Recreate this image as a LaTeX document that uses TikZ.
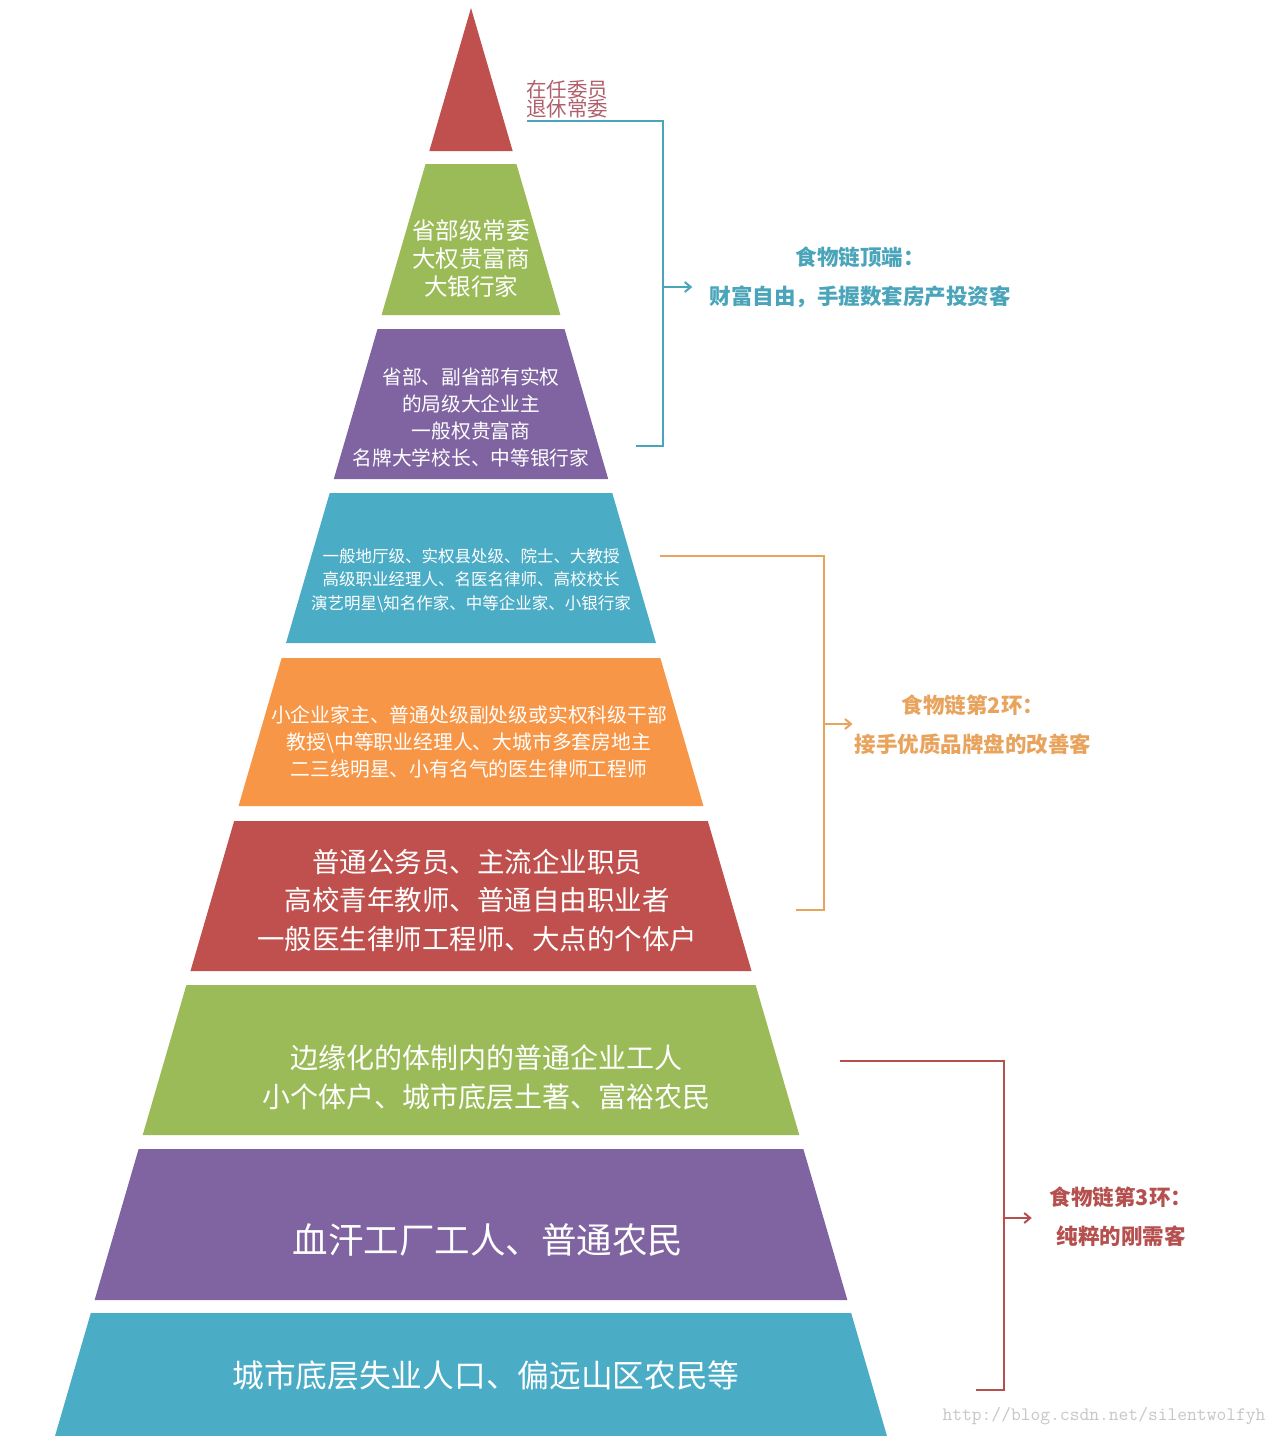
\documentclass[tikz,border=0pt]{standalone}
\usepackage{fontspec}
\setmainfont{Noto Sans CJK SC}
\usepackage{xcolor}
\definecolor{PyrRed}{HTML}{C0504D}
\definecolor{PyrGreen}{HTML}{9BBB59}
\definecolor{PyrPurple}{HTML}{8064A2}
\definecolor{PyrCyan}{HTML}{4BACC6}
\definecolor{PyrOrange}{HTML}{F79646}
\definecolor{ChainTeal}{HTML}{4AA5BA}
\definecolor{ChainOrange}{HTML}{E8A35C}
\definecolor{ChainRed}{HTML}{B5504F}
\definecolor{TopMauve}{HTML}{B0606C}
\usetikzlibrary{arrows.meta,calc}
\newcommand\tightlines{\setlength{\lineskiplimit}{-30pt}\setlength{\lineskip}{0pt}}

\begin{document}
\begin{tikzpicture}[
  x=1pt,y=-1pt,
  layertext/.style={text=white,align=center,inner sep=0pt},
  chainline/.style={line width=2pt},
  chaintext/.style={
    font=\bfseries\fontsize{21.5}{39}\selectfont,
    align=center,inner sep=0pt
  },
  chainarrow/.style={chainline,-{Straight Barb[length=6pt,width=10pt]}}
]
  \useasboundingbox (0,0) rectangle (1280,1436);
  \fill[white] (0,0) rectangle (1280,1436);

  \foreach \t/\b/\c in {8/151/PyrRed,164/315/PyrGreen,329/479/PyrPurple,
      493/643/PyrCyan,658/806/PyrOrange,821/971/PyrRed,
      985/1135/PyrGreen,1149/1300/PyrPurple,1313/1436/PyrCyan}{
    \pgfmathsetmacro\wt{0.2913*(\t-8)}
    \pgfmathsetmacro\wb{0.2913*(\b-8)}
    \fill[\c] (471-\wt,\t) -- (471+\wt,\t) -- (471+\wb,\b) -- (471-\wb,\b) -- cycle;
  }

  \node[anchor=west,align=left,inner sep=0pt,text=TopMauve,
    font=\fontsize{20.5}{19}\selectfont\tightlines] (top) at (526,99)
    {在任委员\\退休常委};

  \node[layertext,font=\fontsize{23.5}{28}\selectfont] (l2) at (471,259)
    {省部级常委\\大权贵富商\\大银行家};
  \node[layertext,font=\fontsize{19.7}{27}\selectfont] (l3) at (471,417)
    {省部、副省部有实权\\的局级大企业主\\一般权贵富商\\名牌大学校长、中等银行家};
  \node[layertext,font=\fontsize{16.5}{23.5}\selectfont] (l4) at (471,580)
    {一般地厅级、实权县处级、院士、大教授\\高级职业经理人、名医名律师、高校校长\\演艺明星\textbackslash 知名作家、中等企业家、小银行家};
  \node[layertext,font=\fontsize{19.8}{27}\selectfont] (l5) at (469,742)
    {小企业家主、普通处级副处级或实权科级干部\\教授\textbackslash 中等职业经理人、大城市多套房地主\\二三线明星、小有名气的医生律师工程师};
  \node[layertext,font=\fontsize{27.5}{38.5}\selectfont] (l6) at (477,900)
    {普通公务员、主流企业职员\\高校青年教师、普通自由职业者\\一般医生律师工程师、大点的个体户};
  \node[layertext,font=\fontsize{28}{39}\selectfont] (l7) at (486,1077)
    {边缘化的体制内的普通企业工人\\小个体户、城市底层土著、富裕农民};
  \node[layertext,font=\fontsize{35.5}{40}\selectfont] (l8) at (488,1240)
    {血汗工厂工人、普通农民};
  \node[layertext,font=\fontsize{31.7}{36}\selectfont] (l9) at (486,1375)
    {城市底层失业人口、偏远山区农民等};

  \node[chaintext,text=ChainTeal] (c1) at (860,277.5)
    {食物链顶端：\\财富自由，手握数套房产投资客};
  \node[chaintext,text=ChainOrange] (c2) at (973,725)
    {食物链第2环：\\接手优质品牌盘的改善客};
  \node[chaintext,text=ChainRed] (c3) at (1121,1217)
    {食物链第3环：\\纯粹的刚需客};

  \coordinate (b1a) at (527,121);
  \coordinate (b1m) at (663,287);
  \coordinate (b1b) at (636,446);
  \coordinate (b2a) at (660,556);
  \coordinate (b2m) at (824,724);
  \coordinate (b2b) at (796,910);
  \coordinate (b3a) at (840,1061);
  \coordinate (b3m) at (1004,1218);
  \coordinate (b3b) at (976,1390);

  \draw[chainline,ChainTeal] (b1a) -| (b1m) |- (b1b);
  \draw[chainarrow,ChainTeal,shorten >=17pt] (b1m) -- (b1m -| c1.west);
  \draw[chainline,ChainOrange] (b2a) -| (b2m) |- (b2b);
  \draw[chainarrow,ChainOrange,shorten >=2pt] (b2m) -- (b2m -| c2.west);
  \draw[chainline,ChainRed] (b3a) -| (b3m) |- (b3b);
  \draw[chainarrow,ChainRed,shorten >=18pt] (b3m) -- (b3m -| c3.west);

  \node[inner sep=0pt,text=black!22,font=\ttfamily\fontsize{19}{19}\selectfont]
    (mark) at (1104,1416) {http://blog.csdn.net/silentwolfyh};
\end{tikzpicture}
\end{document}
